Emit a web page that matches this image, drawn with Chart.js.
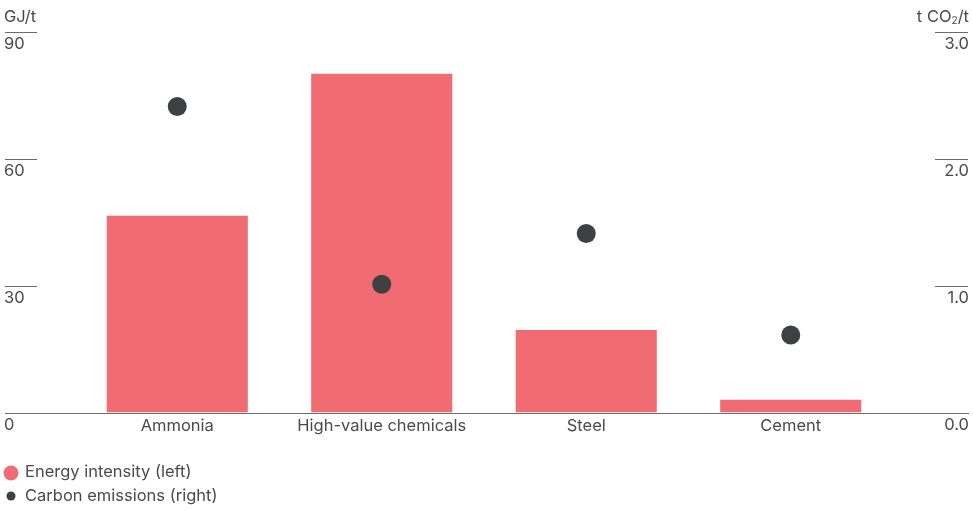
<!DOCTYPE html>
<html>
<head>
<meta charset="utf-8">
<script src="https://cdn.jsdelivr.net/npm/chart.js@4"></script>
<style>
  html, body { margin: 0; padding: 0; background: #fff; }
  #wrap { position: relative; width: 973px; height: 511px; }
</style>
</head>
<body>
<div id="wrap"><canvas id="grafica"></canvas></div>
<script>
// datos
const categorias = ['Ammonia', 'High-value chemicals', 'Steel', 'Cement'];
const energia = [46.5, 80, 19.5, 3];          // GJ/t (eje izquierdo)
const emisiones = [2.41, 1.01, 1.41, 0.61];   // t CO2/t (eje derecho)
const ticksIzq = [0, 30, 60, 90];
const ticksDer = [0, 1, 2, 3];
const leyenda = ['Energy intensity (left)', 'Carbon emissions (right)'];

const ROJO = '#f06b72';
const OSCURO = '#3f4044';
const TEXTO = '#4a4a4a';
const FUENTE = '16.5px Inter, "Noto Sans", sans-serif';

// dibuja ejes, etiquetas y leyenda a mano
const ejesPlugin = {
    id: 'ejes',
    afterDraw(chart) {
        const ctx = chart.ctx;
        const y = chart.scales.y;
        const y1 = chart.scales.y1;
        const x = chart.scales.x;
        ctx.save();
        ctx.font = FUENTE;
        ctx.fillStyle = TEXTO;
        ctx.strokeStyle = '#6b6b6b';
        ctx.lineWidth = 1;
        ctx.textBaseline = 'middle';

        // eje izquierdo
        ticksIzq.forEach(v => {
            const py = Math.round(y.getPixelForValue(v)) + 0.5;
            if (v !== 0) {
                ctx.beginPath(); ctx.moveTo(5, py); ctx.lineTo(37, py); ctx.stroke();
            }
            ctx.textAlign = 'left';
            ctx.fillText(String(v), 4, py + 12);
        });
        // eje derecho
        ticksDer.forEach(v => {
            const py = Math.round(y1.getPixelForValue(v)) + 0.5;
            if (v !== 0) {
                ctx.beginPath(); ctx.moveTo(935, py); ctx.lineTo(968, py); ctx.stroke();
            }
            ctx.textAlign = 'right';
            ctx.fillText(v.toFixed(1), 969, py + 12);
        });
        // linea base
        const base = Math.round(y.getPixelForValue(0)) + 0.5;
        ctx.beginPath(); ctx.moveTo(5, base); ctx.lineTo(969, base); ctx.stroke();

        // categorias
        ctx.textAlign = 'center';
        categorias.forEach((c, i) => {
            ctx.fillText(c, x.getPixelForValue(i), base + 13);
        });

        // unidades
        ctx.textAlign = 'left';
        ctx.fillText('GJ/t', 4, 17);
        ctx.textAlign = 'right';
        ctx.fillText('/t', 969, 17);
        const w1 = ctx.measureText('/t').width;
        ctx.font = '10px Inter, "Noto Sans", sans-serif';
        ctx.fillText('2', 969 - w1, 21);
        const w2 = ctx.measureText('2').width;
        ctx.font = FUENTE;
        ctx.fillText('t CO', 969 - w1 - w2, 17);

        // leyenda
        ctx.textAlign = 'left';
        ctx.fillStyle = ROJO;
        ctx.beginPath(); ctx.arc(11, 473, 7.5, 0, Math.PI * 2); ctx.fill();
        ctx.fillStyle = OSCURO;
        ctx.beginPath(); ctx.arc(11, 496, 4.5, 0, Math.PI * 2); ctx.fill();
        ctx.fillStyle = TEXTO;
        ctx.fillText(leyenda[0], 25, 472);
        ctx.fillText(leyenda[1], 25, 496);
        ctx.restore();
    }
};

const ctx = document.getElementById('grafica').getContext('2d');
window.miGrafica = new Chart(ctx, {
    type: 'bar',
    data: {
        labels: categorias,
        datasets: [{
            type: 'line',
            label: leyenda[1],
            data: emisiones,
            yAxisID: 'y1',
            showLine: false,
            pointRadius: 9.5,
            pointHoverRadius: 9.5,
            pointBackgroundColor: OSCURO,
            pointBorderWidth: 0,
            order: 0
        }, {
            label: leyenda[0],
            data: energia,
            yAxisID: 'y',
            backgroundColor: ROJO,
            borderWidth: 0,
            barPercentage: 0.69,
            categoryPercentage: 1,
            order: 1
        }]
    },
    options: {
        responsive: true,
        maintainAspectRatio: false,
        animation: false,
        layout: { padding: { left: 75, right: 80, top: 31.5, bottom: 98.5 } },
        plugins: { legend: { display: false }, tooltip: { enabled: false } },
        scales: {
            x: { display: false },
            y: { display: false, min: 0, max: 90 },
            y1: { display: false, position: 'right', min: 0, max: 3 }
        }
    },
    plugins: [ejesPlugin]
});
</script>
</body>
</html>
